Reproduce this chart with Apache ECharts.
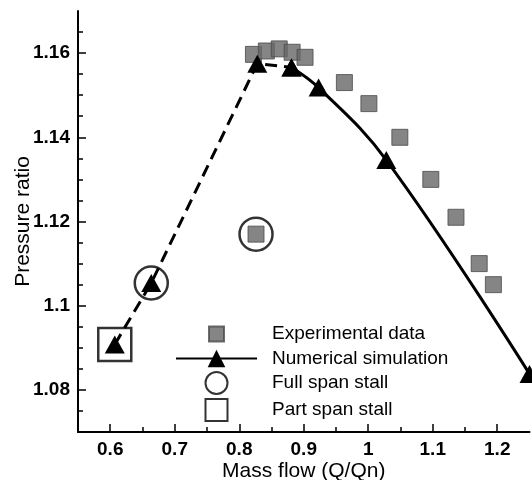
<!DOCTYPE html>
<html>
<head>
<meta charset="utf-8">
<script src="https://cdn.jsdelivr.net/npm/echarts@6/dist/echarts.min.js"></script>
<style>html,body{margin:0;padding:0;background:#fff;}#c{width:532px;height:480px;}</style>
</head>
<body>
<div id="c"></div>
<script>
// Experimental data (squares)
const expFlow  = [0.822, 0.842, 0.862, 0.882, 0.902, 0.963, 1.001, 1.049, 1.097, 1.136, 1.172, 1.194, 0.826];
const expRatio = [1.1597, 1.1605, 1.161, 1.1602, 1.159, 1.153, 1.148, 1.140, 1.130, 1.121, 1.110, 1.105, 1.117];
// Numerical simulation (triangles): stalled branch (dashed) and normal branch (solid)
const simStallFlow  = [0.607, 0.6636, 0.828, 0.881];
const simStallRatio = [1.0908, 1.1054, 1.1575, 1.1566];
const simFlow  = [0.881, 0.923, 1.028, 1.25];
const simRatio = [1.1566, 1.1518, 1.1346, 1.0838];
// Stall markers
const fullStallFlow  = [0.6636, 0.826];
const fullStallRatio = [1.1054, 1.117];
const partStallFlow  = [0.607];
const partStallRatio = [1.0908];
// Axis ticks
const xMajor = [0.6, 0.7, 0.8, 0.9, 1.0, 1.1, 1.2];
const xMinor = [0.65, 0.75, 0.85, 0.95, 1.05, 1.15];
const yMajor = [1.08, 1.10, 1.12, 1.14, 1.16];
const yMinor = [1.075, 1.085, 1.09, 1.095, 1.105, 1.11, 1.115, 1.125, 1.13, 1.135, 1.145, 1.15, 1.155, 1.165];

const FONT = 'Liberation Sans, Arial, Helvetica, sans-serif';
const zip = (a, b) => a.map((v, i) => [v, b[i]]);
const fmt = v => String(+(+v).toFixed(3));

const chart = echarts.init(document.getElementById('c'), null, {renderer: 'canvas'});
chart.setOption({
  animation: false,
  backgroundColor: '#fff',
  grid: {left: 78, right: 2.5, top: 11, bottom: 48, outerBoundsMode: 'none', containLabel: false},
  xAxis: [
    {
      type: 'value', min: 0.55, max: 1.25, position: 'bottom',
      name: 'Mass flow (Q/Qn)', nameLocation: 'middle', nameGap: 29, nameMoveOverlap: false,
      nameTextStyle: {fontSize: 21, color: '#000', fontFamily: FONT},
      axisLine: {show: true, onZero: false, lineStyle: {color: '#000', width: 2}},
      axisTick: {show: true, inside: true, length: 8, customValues: xMajor, lineStyle: {color: '#000', width: 1.5}},
      axisLabel: {show: true, customValues: xMajor, formatter: fmt, fontSize: 19, fontWeight: 'bold', color: '#000', fontFamily: FONT, margin: 8},
      splitLine: {show: false}
    },
    {
      type: 'value', min: 0.55, max: 1.25, position: 'bottom', offset: 0,
      axisLine: {show: false},
      axisTick: {show: true, inside: true, length: 5, customValues: xMinor, lineStyle: {color: '#000', width: 1.5}},
      axisLabel: {show: false},
      splitLine: {show: false}
    }
  ],
  yAxis: [
    {
      type: 'value', min: 1.07, max: 1.17, position: 'left',
      name: 'Pressure ratio', nameLocation: 'middle', nameGap: 44, nameRotate: 90, nameMoveOverlap: false,
      nameTextStyle: {fontSize: 21, color: '#000', fontFamily: FONT},
      axisLine: {show: true, onZero: false, lineStyle: {color: '#000', width: 2}},
      axisTick: {show: true, inside: true, length: 8, customValues: yMajor, lineStyle: {color: '#000', width: 1.5}},
      axisLabel: {show: true, customValues: yMajor, formatter: fmt, fontSize: 19, fontWeight: 'bold', color: '#000', fontFamily: FONT, margin: 8},
      splitLine: {show: false}
    },
    {
      type: 'value', min: 1.07, max: 1.17, position: 'left', offset: 0,
      axisLine: {show: false},
      axisTick: {show: true, inside: true, length: 5, customValues: yMinor, lineStyle: {color: '#000', width: 1.5}},
      axisLabel: {show: false},
      splitLine: {show: false}
    }
  ],
  legend: {
    orient: 'vertical', left: 175, top: 322, padding: 0,
    itemWidth: 81, itemHeight: 22, itemGap: 3, selectedMode: false,
    textStyle: {fontSize: 19, color: '#000', fontFamily: FONT, padding: [0, 0, 0, 10]},
    data: [
      {name: 'Experimental data', icon: 'path://M0 0M22 22M3.5 3.5h15v15h-15z'},
      {name: 'Numerical simulation'},
      {name: 'Full span stall', icon: 'circle'},
      {name: 'Part span stall', icon: 'path://M0 0h22v22h-22z'}
    ]
  },
  series: [
    {
      name: 'Experimental data', type: 'scatter', xAxisIndex: 0, yAxisIndex: 0, z: 2,
      symbol: 'rect', symbolSize: 16,
      itemStyle: {color: '#666666', borderColor: '#4a4a4a', borderWidth: 1},
      data: zip(expFlow, expRatio)
    },
    {
      name: 'Stalled simulation', type: 'line', xAxisIndex: 0, yAxisIndex: 0, z: 4,
      symbol: 'triangle', symbolSize: [20, 18], showSymbol: true,
      lineStyle: {color: '#000', width: 3, type: [12, 7]},
      itemStyle: {color: '#000'},
      data: zip(simStallFlow, simStallRatio)
    },
    {
      name: 'Numerical simulation', type: 'line', xAxisIndex: 0, yAxisIndex: 0, z: 4,
      symbol: 'triangle', symbolSize: [20, 18], showSymbol: true, smooth: 0.4,
      lineStyle: {color: '#000', width: 3},
      itemStyle: {color: '#000'},
      data: zip(simFlow, simRatio)
    },
    {
      name: 'Full span stall', type: 'scatter', xAxisIndex: 0, yAxisIndex: 0, z: 5,
      symbol: 'circle', symbolSize: 33,
      itemStyle: {color: 'rgba(0,0,0,0)', borderColor: '#000', borderWidth: 2.5},
      data: zip(fullStallFlow, fullStallRatio)
    },
    {
      name: 'Part span stall', type: 'scatter', xAxisIndex: 0, yAxisIndex: 0, z: 5,
      symbol: 'rect', symbolSize: 33,
      itemStyle: {color: 'rgba(0,0,0,0)', borderColor: '#000', borderWidth: 2.5},
      data: zip(partStallFlow, partStallRatio)
    }
  ]
});
</script>
</body>
</html>
